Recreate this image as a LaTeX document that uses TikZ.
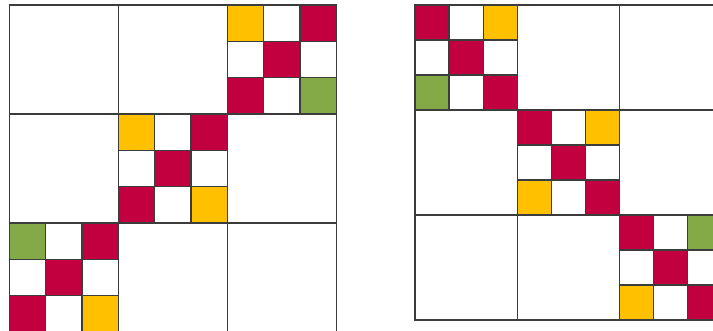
\documentclass[tikz,border=0pt]{standalone}
\definecolor{crimson}{HTML}{C3003F}
\definecolor{amber}{HTML}{FFC000}
\definecolor{olive}{HTML}{84AA48}
\definecolor{gridline}{HTML}{3C3C3C}
\tikzset{
  px/.style={x=0.03cm, y=-0.03cm},
  blockline/.style={draw=gridline, line width=1.1pt},
  cell/.style={fill=#1, draw=gridline, line width=1.1pt},
}
% #1 x, #2 y, #3 cell width, #4 cell height, #5 nine colours, row by row
\newcommand{\tiles}[5]{%
  \foreach \c [count=\k from 0] in {#5} {
    \pgfmathtruncatemacro{\col}{mod(\k,3)}
    \pgfmathtruncatemacro{\row}{div(\k,3)}
    \draw[cell=\c] ({#1+\col*#3}, {#2+\row*#4}) rectangle ++(#3, #4);
  }%
}

\begin{document}
\begin{tikzpicture}[px]
  \useasboundingbox (0, 0) rectangle (713, 330);
  \clip (0, 0) rectangle (713, 330);
  \fill[white] (0, 0) rectangle (713, 330);

  % ---------------------------------------------------------------- left matrix
  \foreach \i in {0, 1, 2} {
    \foreach \j in {0, 1, 2} {
      \draw[blockline] ({9.3+\i*109}, {5+\j*109}) rectangle ++(109, 109);
    }
  }
  \tiles{227.3}{5}{36.333}{36.333}{amber, white, crimson, white, crimson, white, crimson, white, olive}
  \tiles{118.3}{114}{36.333}{36.333}{amber, white, crimson, white, crimson, white, crimson, white, amber}
  \tiles{9.3}{223}{36.333}{36.333}{olive, white, crimson, white, crimson, white, crimson, white, amber}

  % ---------------------------------------------------------------- right matrix
  \foreach \i in {0, 1, 2} {
    \foreach \j in {0, 1, 2} {
      \draw[blockline] ({415+\i*102.3}, {5+\j*105}) rectangle ++(102.3, 105);
    }
  }
  \tiles{415}{5}{34.1}{35}{crimson, white, amber, white, crimson, white, olive, white, crimson}
  \tiles{517.3}{110}{34.1}{35}{crimson, white, amber, white, crimson, white, amber, white, crimson}
  \tiles{619.6}{215}{34.1}{35}{crimson, white, olive, white, crimson, white, amber, white, crimson}

\end{tikzpicture}
\end{document}
